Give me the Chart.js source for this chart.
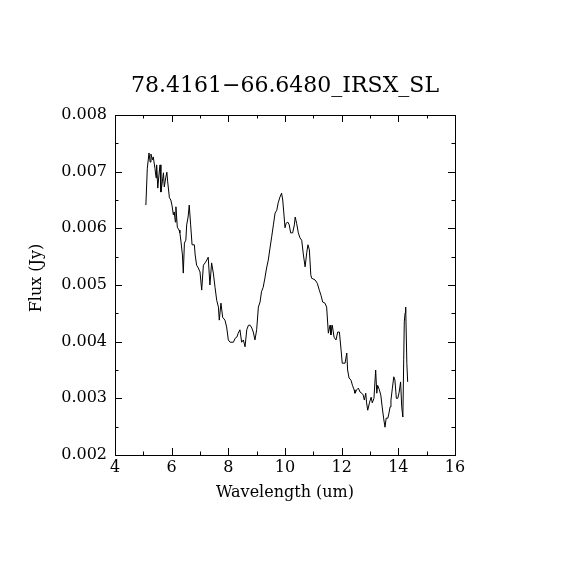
<!DOCTYPE html>
<html>
<head>
<meta charset="utf-8">
<script src="https://cdn.jsdelivr.net/npm/chart.js@4"></script>
<style>
  html, body { margin: 0; padding: 0; background: #fff; }
  #myChart { display: block; }
</style>
</head>
<body>
<canvas id="myChart" width="570" height="570"></canvas>
<script>
const titleText = "78.4161\u221266.6480_IRSX_SL";
const xLabel = "Wavelength (um)";
const yLabel = "Flux (Jy)";

// spectrum
const wavelength = [
  5.09, 5.14, 5.20, 5.24, 5.27, 5.32, 5.35, 5.41, 5.45, 5.47,
  5.51, 5.55, 5.59, 5.62, 5.67, 5.71, 5.74, 5.79, 5.83, 5.86,
  5.92, 5.97, 6.01, 6.06, 6.09, 6.13, 6.15, 6.20, 6.26, 6.29,
  6.33, 6.38, 6.41, 6.45, 6.50, 6.53, 6.58, 6.62, 6.67, 6.72,
  6.80, 6.83, 6.88, 6.94, 7.00, 7.06, 7.12, 7.18, 7.24, 7.29,
  7.35, 7.41, 7.47, 7.53, 7.59, 7.65, 7.68, 7.74, 7.80, 7.88,
  7.94, 8.00, 8.06, 8.18, 8.24, 8.30, 8.35, 8.41, 8.47, 8.53,
  8.59, 8.65, 8.71, 8.77, 8.83, 8.88, 8.94, 9.00, 9.06, 9.12,
  9.17, 9.23, 9.29, 9.35, 9.41, 9.47, 9.53, 9.59, 9.65, 9.71,
  9.76, 9.82, 9.88, 9.92, 9.97, 10.00, 10.04, 10.10, 10.15, 10.20,
  10.27, 10.33, 10.36, 10.41, 10.47, 10.53, 10.59, 10.65, 10.71, 10.77,
  10.81, 10.86, 10.91, 10.94, 11.06, 11.14, 11.21, 11.27, 11.33, 11.41,
  11.47, 11.53, 11.59, 11.62, 11.67, 11.73, 11.80, 11.86, 11.92, 11.98,
  12.02, 12.12, 12.18, 12.21, 12.26, 12.33, 12.38, 12.44, 12.47, 12.53,
  12.59, 12.65, 12.71, 12.76, 12.80, 12.85, 12.88, 12.92, 12.98, 13.04,
  13.08, 13.14, 13.20, 13.24, 13.27, 13.33, 13.38, 13.43, 13.48, 13.53,
  13.57, 13.63, 13.67, 13.71, 13.74, 13.79, 13.84, 13.88, 13.93, 13.98,
  14.03, 14.08, 14.12, 14.16, 14.19, 14.21, 14.24, 14.26, 14.30, 14.33
];

const flux = [
  0.00641, 0.00706, 0.00733, 0.00717, 0.00731, 0.00721, 0.00726, 0.00706, 0.00689, 0.00712,
  0.00671, 0.00694, 0.00712, 0.00664, 0.00682, 0.00698, 0.00673, 0.00689, 0.00699, 0.00682,
  0.00654, 0.00650, 0.00641, 0.00624, 0.00629, 0.00611, 0.00638, 0.00602, 0.00597, 0.00592,
  0.00576, 0.00553, 0.00521, 0.00574, 0.00579, 0.00606, 0.00620, 0.00641, 0.00606, 0.00571,
  0.00571, 0.00553, 0.00535, 0.00530, 0.00523, 0.00491, 0.00535, 0.00539, 0.00544, 0.00549,
  0.00500, 0.00539, 0.00521, 0.00496, 0.00473, 0.00461, 0.00438, 0.00468, 0.00443, 0.00438,
  0.00426, 0.00403, 0.00399, 0.00399, 0.00406, 0.00408, 0.00415, 0.00421, 0.00399, 0.00403,
  0.00391, 0.00421, 0.00429, 0.00429, 0.00424, 0.00417, 0.00403, 0.00421, 0.00461, 0.00470,
  0.00488, 0.00496, 0.00512, 0.00530, 0.00544, 0.00565, 0.00585, 0.00606, 0.00627, 0.00632,
  0.00645, 0.00655, 0.00662, 0.00650, 0.00620, 0.00601, 0.00609, 0.00611, 0.00606, 0.00592,
  0.00592, 0.00606, 0.00620, 0.00609, 0.00592, 0.00583, 0.00579, 0.00553, 0.00532, 0.00558,
  0.00571, 0.00562, 0.00518, 0.00512, 0.00509, 0.00503, 0.00491, 0.00482, 0.00470, 0.00468,
  0.00461, 0.00415, 0.00429, 0.00412, 0.00429, 0.00408, 0.00403, 0.00417, 0.00417, 0.00385,
  0.00362, 0.00362, 0.00380, 0.00350, 0.00336, 0.00332, 0.00323, 0.00315, 0.00309, 0.00315,
  0.00318, 0.00311, 0.00309, 0.00306, 0.00297, 0.00309, 0.00292, 0.00279, 0.00292, 0.00302,
  0.00292, 0.00300, 0.00350, 0.00309, 0.00323, 0.00315, 0.00306, 0.00285, 0.00265, 0.00249,
  0.00265, 0.00265, 0.00274, 0.00285, 0.00297, 0.00318, 0.00338, 0.00332, 0.00300, 0.00300,
  0.00311, 0.00329, 0.00285, 0.00267, 0.00368, 0.00435, 0.00451, 0.00461, 0.00362, 0.00329
];

// axis ranges and ticks
const xMin = 4, xMax = 16, xStep = 2, xMinor = 1;
const yMin = 0.002, yMax = 0.008, yStep = 0.001, yMinor = 0.0005;

const font = "DejaVu Serif";

const points = wavelength.map((w, i) => ({ x: w, y: flux[i] }));

// box, inward ticks on all four sides, title and axis labels
const framePlugin = {
  id: "frame",
  afterDraw(chart) {
    const ctx = chart.ctx;
    const a = chart.chartArea;
    const xs = chart.scales.x;
    const ys = chart.scales.y;
    ctx.save();
    ctx.strokeStyle = "#000";
    ctx.lineWidth = 1;
    ctx.strokeRect(a.left + 0.5, a.top + 0.5, a.right - a.left, a.bottom - a.top);

    ctx.beginPath();
    for (let v = xMin; v <= xMax + 1e-9; v += xMinor) {
      const px = Math.round(xs.getPixelForValue(v)) + 0.5;
      const len = Math.abs((v - xMin) % xStep) < 1e-9 ? 7 : 3.5;
      ctx.moveTo(px, a.bottom);
      ctx.lineTo(px, a.bottom - len);
      ctx.moveTo(px, a.top);
      ctx.lineTo(px, a.top + len);
    }
    for (let k = 0; k <= Math.round((yMax - yMin) / yMinor); k++) {
      const v = yMin + k * yMinor;
      const py = Math.round(ys.getPixelForValue(v)) + 0.5;
      const len = k % 2 === 0 ? 7 : 3.5;
      ctx.moveTo(a.left, py);
      ctx.lineTo(a.left + len, py);
      ctx.moveTo(a.right, py);
      ctx.lineTo(a.right - len, py);
    }
    ctx.stroke();

    ctx.fillStyle = "#000";
    ctx.textAlign = "center";
    ctx.textBaseline = "alphabetic";
    ctx.font = "22px '" + font + "'";
    ctx.fillText(titleText, (a.left + a.right) / 2, 92);

    ctx.font = "16px '" + font + "'";
    ctx.fillText(xLabel, (a.left + a.right) / 2, 497);

    ctx.translate(41, 278);
    ctx.rotate(-Math.PI / 2);
    ctx.fillText(yLabel, 0, 0);
    ctx.restore();
  },
};

new Chart(document.getElementById("myChart"), {
  type: "scatter",
  data: {
    datasets: [
      {
        data: points,
        showLine: true,
        borderColor: "#000",
        borderWidth: 1,
        pointRadius: 0,
        tension: 0,
      },
    ],
  },
  options: {
    responsive: false,
    animation: false,
    devicePixelRatio: 1,
    layout: { padding: { left: 0, right: 115, top: 115, bottom: 0 } },
    plugins: {
      legend: { display: false },
      tooltip: { enabled: false },
    },
    scales: {
      x: {
        type: "linear",
        min: xMin,
        max: xMax,
        grid: { display: false, drawTicks: false },
        border: { display: false },
        ticks: {
          stepSize: xStep,
          padding: 3,
          color: "#000",
          font: { family: font, size: 16 },
          maxRotation: 0,
        },
        afterFit: (scale) => { scale.height = 115; },
      },
      y: {
        type: "linear",
        min: yMin,
        max: yMax,
        grid: { display: false, drawTicks: false },
        border: { display: false },
        ticks: {
          stepSize: yStep,
          padding: 8,
          color: "#000",
          font: { family: font, size: 16 },
          callback: (v) => v.toFixed(3),
        },
        afterFit: (scale) => { scale.width = 115; },
      },
    },
  },
  plugins: [framePlugin],
});
</script>
</body>
</html>
